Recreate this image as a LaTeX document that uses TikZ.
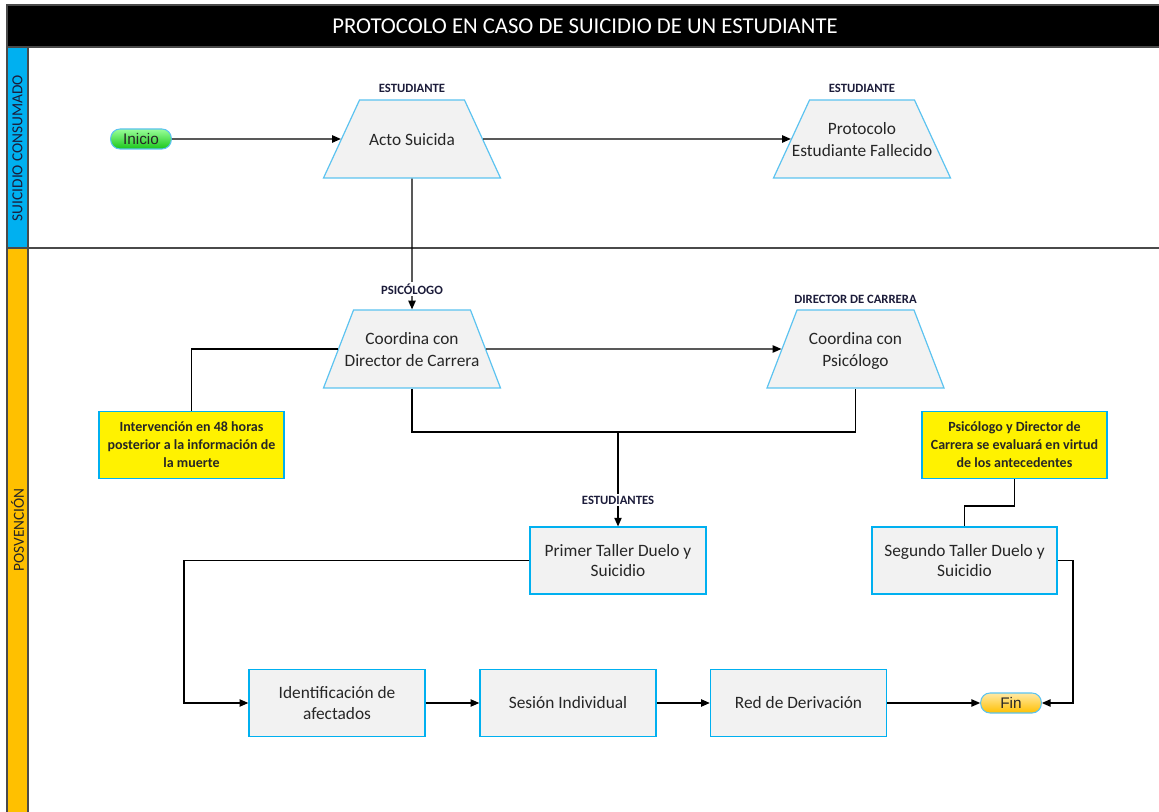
\documentclass[tikz,border=0pt]{standalone}
\usepackage{fontspec}
\setmainfont{Carlito}
\newfontfamily\arialfont{Liberation Sans}
\usetikzlibrary{shapes.geometric,arrows.meta}

\definecolor{lanecyan}{HTML}{00B0F0}
\definecolor{laneorange}{HTML}{FFC000}
\definecolor{boxfill}{HTML}{F2F2F2}
\definecolor{trapline}{HTML}{5CC3F0}
\definecolor{frameline}{HTML}{4A4A4A}
\definecolor{textdark}{HTML}{262626}
\definecolor{labelnavy}{HTML}{1C1C3A}

\newcommand{\traptext}[1]{\makebox[30pt]{\begin{tabular}{@{}c@{}}#1\end{tabular}}}

\begin{document}
\begin{tikzpicture}[x=0.75pt, y=-0.75pt,
    stepbox/.style={rectangle, draw=lanecyan, fill=boxfill, line width=1.1pt,
        minimum width=132pt, minimum height=50pt, align=center, text=textdark,
        font=\fontsize{13}{15.5}\selectfont},
    trapbox/.style={trapezium, trapezium left angle=#1, trapezium right angle=#1,
        trapezium stretches body=true, draw=trapline, fill=boxfill, line width=0.9pt,
        inner sep=0pt, text height=14.35pt, text depth=5.65pt,
        minimum width=132.75pt, minimum height=58.5pt, text=textdark,
        font=\fontsize{13}{16.3}\selectfont},
    notebox/.style={rectangle, draw=lanecyan, fill=yellow, line width=1.1pt,
        minimum width=138.75pt, minimum height=50pt, align=center, text=textdark,
        font=\fontsize{10.5}{13.5}\selectfont\bfseries},
    terminal/.style={rectangle, rounded corners=7pt, draw=trapline, line width=0.8pt,
        minimum width=45.5pt, minimum height=15pt, inner sep=0pt, text=textdark,
        font=\arialfont\fontsize{11.5}{12}\selectfont},
    rolelabel/.style={fill=white, inner sep=1pt, text=labelnavy,
        font=\fontsize{9.5}{10}\selectfont\bfseries},
    lanelabel/.style={rotate=90, font=\fontsize{11.5}{13}\selectfont},
    flowline/.style={draw=black, line width=0.9pt},
    flowarrow/.style={flowline, -{Triangle[length=6.5pt, width=5.5pt]}}]

    \useasboundingbox (0,0) rectangle (1159,812);

    \fill[black] (7,5) rectangle (1159,47);
    \fill[lanecyan] (7,47) rectangle (28,248);
    \fill[laneorange] (7,248) rectangle (28,812);
    \draw[frameline, line width=1.1pt] (1159,5) -- (7,5) -- (7,812);
    \draw[frameline, line width=1.1pt] (28,47) -- (28,812);
    \draw[frameline, line width=1.1pt] (7,47) -- (1159,47);
    \draw[frameline, line width=1.1pt] (7,248) -- (1159,248);

    \node[text=white, font=\fontsize{17}{19}\selectfont] (title) at (585,26)
        {PROTOCOLO EN CASO DE SUICIDIO DE UN ESTUDIANTE};
    \node[lanelabel, text=labelnavy] (laneone) at (17.5,148) {SUICIDIO CONSUMADO};
    \node[lanelabel, text=textdark] (lanetwo) at (17.5,530) {POSVENCIÓN};

    \node[terminal, top color=green!40!white, bottom color=green!75!black!90] (inicio) at (141,139) {Inicio};
    \node[trapbox=36.5] (acto) at (412,139) {\traptext{Acto Suicida}};
    \node[trapbox=36.5] (protocolo) at (862,139) {\traptext{Protocolo\\Estudiante Fallecido}};

    \node[trapbox=41.6] (coordpsi) at (412,349) {\traptext{Coordina con\\Director de Carrera}};
    \node[trapbox=41.6] (coorddir) at (855.5,349) {\traptext{Coordina con\\Psicólogo}};

    \node[notebox] (notaleft) at (191.5,445)
        {Intervención en 48 horas\\posterior a la información de\\la muerte};
    \node[notebox] (notaright) at (1014.5,445)
        {Psicólogo y Director de\\Carrera se evaluará en virtud\\de los antecedentes};

    \node[stepbox] (primer) at (618,560.5) {Primer Taller Duelo y\\Suicidio};
    \node[stepbox, minimum width=138.75pt] (segundo) at (964.5,560.5) {Segundo Taller Duelo y\\Suicidio};

    \node[stepbox] (ident) at (337,703) {Identificación de\\afectados};
    \node[stepbox] (sesion) at (568,703) {Sesión Individual};
    \node[stepbox] (red) at (798.5,703) {Red de Derivación};
    \node[terminal, top color=laneorange!35!white, bottom color=laneorange] (fin) at (1011,703) {Fin};

    \coordinate (junction) at (618,432);
    \coordinate (bendleft) at (184,703);
    \coordinate (bendright) at (1073,703);
    \coordinate (stepright) at (1014.5,506);

    \draw[flowarrow] (inicio) -- (acto);
    \draw[flowarrow] (acto) -- (protocolo);
    \draw[flowarrow] (acto) -- (coordpsi);
    \draw[flowarrow] (coordpsi) -- (coorddir);
    \draw[flowline] (coordpsi) -| (notaleft.north);
    \draw[flowline] (coordpsi.south) |- (junction) -| (coorddir.south);
    \draw[flowarrow] (junction) -- (primer.north);
    \draw[flowarrow] (primer.west) -| (bendleft) -- (ident.west);
    \draw[flowarrow] (ident) -- (sesion);
    \draw[flowarrow] (sesion) -- (red);
    \draw[flowarrow] (red) -- (fin);
    \draw[flowline] (notaright.south) -- (stepright) -| (segundo.north);
    \draw[flowarrow] (segundo.east) -| (bendright) -- (fin.east);

    \node[rolelabel] (roleacto) at (412,88) {ESTUDIANTE};
    \node[rolelabel] (roleprot) at (862,88) {ESTUDIANTE};
    \node[rolelabel] (rolepsi) at (412,289) {PSICÓLOGO};
    \node[rolelabel] (roledir) at (855.5,299) {DIRECTOR DE CARRERA};
    \node[rolelabel] (roleest) at (618,500) {ESTUDIANTES};

\end{tikzpicture}
\end{document}
